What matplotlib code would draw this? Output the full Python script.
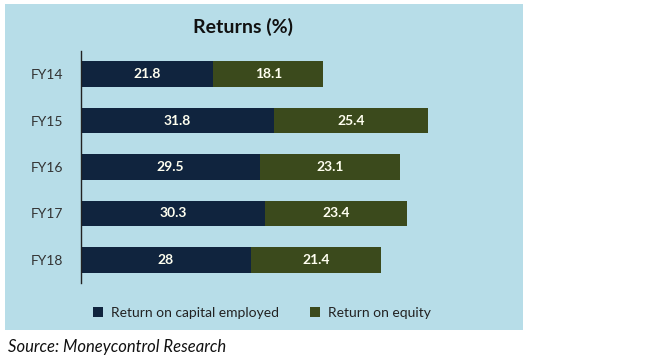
import matplotlib.pyplot as plt
from matplotlib.patches import Rectangle

years = ["FY14", "FY15", "FY16", "FY17", "FY18"]
roce = [21.8, 31.8, 29.5, 30.3, 28]
roe = [18.1, 25.4, 23.1, 23.4, 21.4]
roce_labels = ["21.8", "31.8", "29.5", "30.3", "28"]
roe_labels = ["18.1", "25.4", "23.1", "23.4", "21.4"]

navy = "#10243E"
olive = "#3B4A1C"
bg = "#B7DDE8"
font = ["Lato", "DejaVu Sans"]

fig = plt.figure(figsize=(6.7, 3.62), dpi=100)
fig.patches.append(Rectangle((5 / 670, 32 / 362), 518 / 670, 326 / 362,
                             transform=fig.transFigure, facecolor=bg,
                             edgecolor="none", zorder=-5))

ax = fig.add_axes([81 / 670, 79 / 362, 425 / 670, 232 / 362])
ax.set_zorder(2)
ax.set_facecolor("none")
pos = list(range(len(years)))
ax.barh(pos, roce, height=0.55, color=navy, label="Return on capital employed")
ax.barh(pos, roe, left=roce, height=0.55, color=olive, label="Return on equity")

for i in pos:
    ax.text(roce[i] / 2, i, roce_labels[i], ha="center", va="center",
            color="#FFFFF0", fontsize=10, fontweight="bold", family=font)
    ax.text(roce[i] + roe[i] / 2, i, roe_labels[i], ha="center", va="center",
            color="#FFFFF0", fontsize=10, fontweight="bold", family=font)

ax.set_xlim(0, 70)
ax.set_ylim(4.5, -0.5)
ax.set_yticks(pos)
ax.set_yticklabels(years, family=font, fontsize=10, color="#333333")
ax.tick_params(axis="y", length=0, pad=13)
ax.set_xticks([])
for s in ["top", "right", "bottom"]:
    ax.spines[s].set_visible(False)
ax.spines["left"].set_color("#222222")
ax.spines["left"].set_linewidth(1.0)

fig.text(243 / 670, 1 - 27 / 362, "Returns (%)", ha="center", va="center",
         fontsize=14, fontweight="bold", family=font, color="#111111")

leg = fig.legend(loc="center", bbox_to_anchor=(262 / 670, 1 - 313 / 362),
                 ncol=2, frameon=False, handlelength=0.7, handleheight=0.7,
                 columnspacing=2.2, handletextpad=0.6,
                 prop={"family": font, "size": 10})
for t in leg.get_texts():
    t.set_color("#222222")

fig.text(8 / 670, 1 - 347 / 362, "Source: Moneycontrol Research", ha="left",
         va="center", fontsize=12, style="italic", family=font, color="#111111")

fig.savefig("out.png", dpi=100)
